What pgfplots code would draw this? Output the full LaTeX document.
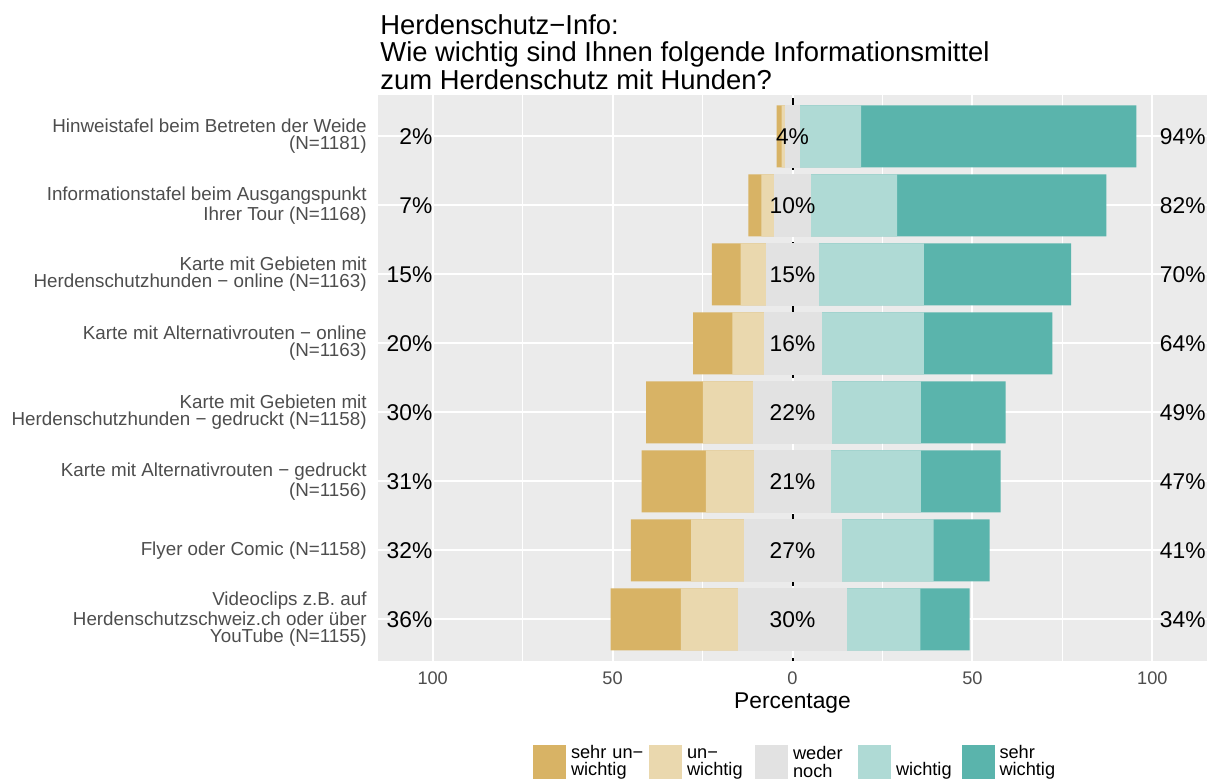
\documentclass[border=0pt]{standalone}
\usepackage{fontspec}
\setmainfont{Liberation Sans}
\usepackage{pgfplots}
\pgfplotsset{compat=1.18}
\usepackage{pgfplotstable}

\definecolor{csu}{HTML}{D8B365}
\definecolor{cu}{HTML}{EAD8AE}
\definecolor{cn}{HTML}{E2E2E2}
\definecolor{cw}{HTML}{AFDAD5}
\definecolor{cs}{HTML}{5AB4AC}
\definecolor{panel}{HTML}{EBEBEB}
\definecolor{axtext}{HTML}{4D4D4D}

% segment shares (sehr unwichtig, unwichtig, weder noch, wichtig, sehr wichtig)
% and the printed percentages (negative, neutral, positive)
\pgfplotstableread{
y su   u    n    w    s    lneg lneu lpos
8 1.4  1.0  4.0  17.1 76.5 2    4    94
7 3.6  3.6  10.1 24.0 58.2 7    10   82
6 8.0  7.1  14.6 29.2 40.9 15   15   70
5 10.9 8.8  15.8 28.6 35.7 20   16   64
4 15.8 14.1 21.6 24.9 23.5 30   22   49
3 17.9 13.4 21.3 25.0 22.2 31   21   47
2 16.8 14.7 26.9 25.8 15.5 32   27   41
1 19.5 16.1 29.9 20.6 13.7 36   30   34
}\likert

\pgfplotsset{
  seg/.style={xbar, bar width=0.9, bar shift=0pt, draw=none, forget plot},
  lab/.style={draw=none, mark=none, forget plot, point meta=explicit,
    nodes near coords={\pgfmathprintnumber{\pgfplotspointmeta}\%},
    every node near coord/.append style={anchor=#1, inner sep=0pt,
      font=\fontsize{11.4}{11.4}\selectfont, text=black}},
}

\begin{document}
\begin{tikzpicture}
\begin{axis}[
    at={(189pt,-330.4pt)}, anchor=south west,
    scale only axis,
    width=414.5pt, height=282.9pt,
    xmin=-115.2, xmax=115.2,
    ymin=0.4, ymax=8.6,
    axis background/.style={fill=panel},
    axis line style={draw=none},
    tick style={draw=none},
    major tick length=0pt, minor tick length=0pt,
    xtick={-100,-50,0,50,100},
    xticklabels={100,50,0,50,100},
    minor xtick={-75,-25,25,75},
    ytick={1,...,8},
    yticklabels={
      {Videoclips z.B. auf\\Herdenschutzschweiz.ch oder über\\YouTube (N=1155)},
      {Flyer oder Comic (N=1158)},
      {Karte mit Alternativrouten − gedruckt\\(N=1156)},
      {Karte mit Gebieten mit\\Herdenschutzhunden − gedruckt (N=1158)},
      {Karte mit Alternativrouten − online\\(N=1163)},
      {Karte mit Gebieten mit\\Herdenschutzhunden − online (N=1163)},
      {Informationstafel beim Ausgangspunkt\\Ihrer Tour (N=1168)},
      {Hinweistafel beim Betreten der Weide\\(N=1181)}},
    xmajorgrids, xminorgrids, ymajorgrids,
    major grid style={white, line width=1pt},
    minor grid style={white, line width=0.5pt},
    xticklabel style={font=\fontsize{9.1}{9}\selectfont, text=axtext,
      inner sep=0pt, yshift=-5.5pt},
    yticklabel style={font=\fontsize{9.4}{8.6}\selectfont, text=axtext,
      align=right, inner sep=0pt, xshift=-5.5pt},
    xlabel={Percentage},
    xlabel style={at={(axis description cs:0.5,0)}, anchor=base,
      yshift=-23.6pt, inner sep=0pt, font=\fontsize{11.4}{11.4}\selectfont},
    /pgf/number format/assume math mode=true,
    legend columns=5,
    legend image code/.code={\fill[#1, draw=none] (0pt,-8.5pt) rectangle (16.5pt,8.5pt);},
    legend style={at={(0.187,-0.1488)}, anchor=north west,
      draw=none, fill=none, inner sep=0pt, outer sep=0pt,
      font=\fontsize{9.1}{8.6}\selectfont,
      nodes={inner sep=0pt, text depth=},
      /tikz/every odd column/.style={column sep=2.5pt},
      /tikz/every even column/.style={column sep=0pt},
      cells={anchor=west, align=left}},
  ]
% dashed reference line at zero, behind the bars
\draw[black, line width=1pt, dash pattern=on 4pt off 4pt, dash phase=6.5pt]
  (axis cs:0,8.6) -- (axis cs:0,0.4);

% negative side, outermost first
\addplot[seg, fill=csu] table[x expr=-(\thisrow{n}/2+\thisrow{u}+\thisrow{su}), y=y]{\likert};
\addplot[seg, fill=cu]  table[x expr=-(\thisrow{n}/2+\thisrow{u}), y=y]{\likert};
\addplot[seg, fill=cn, draw=cn, line width=0.4pt] table[x expr=-\thisrow{n}/2, y=y]{\likert};
% positive side, outermost first
\addplot[seg, fill=cs]  table[x expr=\thisrow{n}/2+\thisrow{w}+\thisrow{s}, y=y]{\likert};
\addplot[seg, fill=cw]  table[x expr=\thisrow{n}/2+\thisrow{w}, y=y]{\likert};
\addplot[seg, fill=cn, draw=cn, line width=0.4pt] table[x expr=\thisrow{n}/2, y=y]{\likert};

% percentage labels
\addplot[lab=east]   table[x expr=-100, y=y, meta=lneg]{\likert};
\addplot[lab=center] table[x expr=0,    y=y, meta=lneu]{\likert};
\addplot[lab=west]   table[x expr=102,  y=y, meta=lpos]{\likert};

\addlegendimage{fill=csu}\addlegendentry[text width=39pt]{sehr un−\\wichtig}
\addlegendimage{fill=cu}\addlegendentry[text width=34pt]{\vphantom{h}un−\\wichtig}
\addlegendimage{fill=cn}\addlegendentry[text width=32.5pt]{weder\\noch}
\addlegendimage{fill=cw}\addlegendentry[text width=32.75pt]{\vphantom{Ah}\\wichtig}
\addlegendimage{fill=cs}\addlegendentry[text width=30pt]{sehr\\wichtig}
\end{axis}

\node[anchor=north west, align=left, inner sep=0pt,
  font=\fontsize{13.7}{13.7}\selectfont] at (190pt,-7pt)
  {Herdenschutz−Info:\\Wie wichtig sind Ihnen folgende Informationsmittel\\zum Herdenschutz mit Hunden?};

\pgfresetboundingbox
\path[use as bounding box] (0,0) rectangle (609.5pt,-389pt);
\end{tikzpicture}
\end{document}
